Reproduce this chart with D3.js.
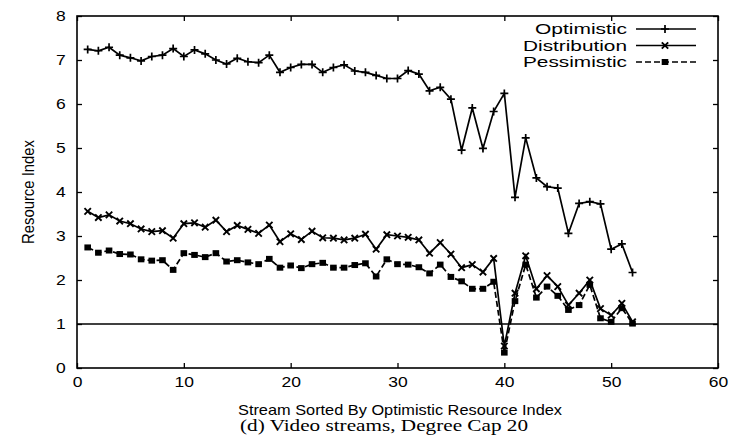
<!DOCTYPE html>
<html>
<head>
<meta charset="utf-8">
<script src="https://cdn.jsdelivr.net/npm/d3@7"></script>
<style>
  html, body { margin: 0; padding: 0; background: #fff; }
  svg { display: block; }
  text { fill: #000; }
</style>
</head>
<body>
<svg id="chart" width="741" height="437"></svg>
<script>
// Resource index per stream, streams sorted by optimistic resource index
const streams = d3.range(1, 53);
const optimistic = [7.24, 7.21, 7.29, 7.11, 7.05, 6.98, 7.08, 7.11, 7.26, 7.08,
  7.23, 7.14, 7.00, 6.91, 7.04, 6.96, 6.94, 7.11, 6.72, 6.83,
  6.90, 6.90, 6.72, 6.83, 6.89, 6.75, 6.72, 6.65, 6.58, 6.58,
  6.76, 6.68, 6.30, 6.38, 6.11, 4.95, 5.91, 4.99, 5.83, 6.24,
  3.88, 5.23, 4.32, 4.12, 4.09, 3.06, 3.74, 3.78, 3.73, 2.70,
  2.82, 2.17];
const distribution = [3.56, 3.42, 3.48, 3.34, 3.28, 3.16, 3.10, 3.12, 2.95, 3.28,
  3.30, 3.20, 3.36, 3.10, 3.24, 3.15, 3.06, 3.25, 2.87, 3.05,
  2.92, 3.11, 2.96, 2.95, 2.91, 2.95, 3.04, 2.70, 3.03, 3.00,
  2.97, 2.91, 2.61, 2.85, 2.59, 2.28, 2.35, 2.18, 2.49, 0.50,
  1.70, 2.55, 1.80, 2.10, 1.85, 1.43, 1.70, 2.00, 1.35, 1.20,
  1.47, 1.05];
const pessimistic = [2.74, 2.62, 2.67, 2.59, 2.58, 2.47, 2.44, 2.45, 2.23, 2.61,
  2.57, 2.52, 2.61, 2.42, 2.45, 2.40, 2.36, 2.48, 2.28, 2.33,
  2.27, 2.36, 2.39, 2.28, 2.28, 2.34, 2.38, 2.08, 2.47, 2.36,
  2.35, 2.29, 2.15, 2.35, 2.07, 1.97, 1.80, 1.80, 1.96, 0.35,
  1.52, 2.35, 1.60, 1.85, 1.64, 1.32, 1.43, 1.89, 1.13, 1.05,
  1.36, 1.01];
const seriesNames = ["Optimistic", "Distribution", "Pessimistic"];
const xTicks = [0, 10, 20, 30, 40, 50, 60];
const yTicks = [0, 1, 2, 3, 4, 5, 6, 7, 8];
const referenceLevel = 1;

const svg = d3.select("#chart");
const margin = { left: 77, right: 23, top: 16, bottom: 69 };
const W = 741, H = 437;

const x = d3.scaleLinear().domain([0, 60]).range([margin.left, W - margin.right]);
const y = d3.scaleLinear().domain([0, 8]).range([H - margin.bottom, margin.top]);

const font = "'Liberation Sans', Arial, sans-serif";
const wide = "scale(1.25,1)";

// Axes with inward ticks on all four sides
const tickLen = 5;
svg.append("g").attr("transform", `translate(0,${y(0)})`)
  .call(d3.axisBottom(x).tickValues(xTicks).tickSize(-tickLen).tickPadding(9))
  .call(g => g.select(".domain").remove());
svg.append("g").attr("transform", `translate(0,${y(8)})`)
  .call(d3.axisTop(x).tickValues(xTicks).tickSize(-tickLen).tickFormat(""))
  .call(g => g.select(".domain").remove());
svg.append("g").attr("transform", `translate(${x(0)},0)`)
  .call(d3.axisLeft(y).tickValues(yTicks).tickSize(-tickLen).tickPadding(9))
  .call(g => g.select(".domain").remove());
svg.append("g").attr("transform", `translate(${x(60)},0)`)
  .call(d3.axisRight(y).tickValues(yTicks).tickSize(-tickLen).tickFormat(""))
  .call(g => g.select(".domain").remove());

svg.selectAll(".tick line").attr("stroke", "#000").attr("stroke-width", 1.3);
svg.selectAll(".tick text")
  .style("font-family", font).style("font-size", "14px").attr("fill", "#000")
  .attr("transform", wide);

// Frame
svg.append("rect")
  .attr("x", x(0)).attr("y", y(8))
  .attr("width", x(60) - x(0)).attr("height", y(0) - y(8))
  .attr("fill", "none").attr("stroke", "#000").attr("stroke-width", 1.6);

// Reference line at index 1
svg.append("line")
  .attr("x1", x(0)).attr("x2", x(60))
  .attr("y1", y(referenceLevel)).attr("y2", y(referenceLevel))
  .attr("stroke", "#000").attr("stroke-width", 1.4);

const line = d3.line().x((d, i) => x(streams[i])).y(d => y(d));

function plusPath(cx, cy, s) {
  return `M${cx - s},${cy}H${cx + s}M${cx},${cy - s}V${cy + s}`;
}
function crossPath(cx, cy, s) {
  return `M${cx - s},${cy - s}L${cx + s},${cy + s}M${cx - s},${cy + s}L${cx + s},${cy - s}`;
}

function drawMarker(g, kind, cx, cy) {
  if (kind === "plus") {
    g.append("path").attr("d", plusPath(cx, cy, 4))
      .attr("stroke", "#000").attr("stroke-width", 1.7).attr("fill", "none");
  } else if (kind === "cross") {
    g.append("path").attr("d", crossPath(cx, cy, 3.2))
      .attr("stroke", "#000").attr("stroke-width", 1.9).attr("fill", "none");
  } else {
    g.append("rect").attr("x", cx - 3.3).attr("y", cy - 3)
      .attr("width", 6.6).attr("height", 6).attr("fill", "#000");
  }
}

const series = [
  { name: seriesNames[0], values: optimistic, marker: "plus", dash: null, width: 92 },
  { name: seriesNames[1], values: distribution, marker: "cross", dash: null, width: 104 },
  { name: seriesNames[2], values: pessimistic, marker: "square", dash: "6,3", width: 104 }
];

series.slice().reverse().forEach(s => {
  const g = svg.append("g");
  g.append("path").datum(s.values)
    .attr("d", line).attr("fill", "none")
    .attr("stroke", "#000").attr("stroke-width", 1.7)
    .attr("stroke-dasharray", s.dash);
  s.values.forEach((v, i) => drawMarker(g, s.marker, x(streams[i]), y(v)));
});

// Legend
const legend = svg.append("g");
const legendRows = [29, 45.5, 62];
series.forEach((s, i) => {
  const ly = legendRows[i];
  legend.append("text")
    .attr("x", 627 - s.width).attr("y", ly).attr("dy", "0.36em")
    .attr("textLength", s.width).attr("lengthAdjust", "spacingAndGlyphs")
    .style("font-family", font).style("font-size", "15px")
    .text(s.name);
  legend.append("line")
    .attr("x1", 636).attr("x2", 696).attr("y1", ly).attr("y2", ly)
    .attr("stroke", "#000").attr("stroke-width", 1.6)
    .attr("stroke-dasharray", s.dash);
  drawMarker(legend, s.marker, 665, ly);
});

// Axis titles and caption
svg.append("text")
  .attr("x", 238).attr("y", 415)
  .attr("textLength", 324).attr("lengthAdjust", "spacingAndGlyphs")
  .style("font-family", font).style("font-size", "15px")
  .text("Stream Sorted By Optimistic Resource Index");
svg.append("text")
  .attr("x", 240).attr("y", 431)
  .attr("textLength", 288).attr("lengthAdjust", "spacingAndGlyphs")
  .style("font-family", "'Liberation Serif', 'Times New Roman', serif").style("font-size", "16px")
  .text("(d) Video streams, Degree Cap 20");
const yMid = (y(0) + y(8)) / 2;
svg.append("text")
  .attr("transform", `translate(34,${yMid}) rotate(-90)`)
  .attr("x", -52)
  .attr("textLength", 104).attr("lengthAdjust", "spacingAndGlyphs")
  .style("font-family", font).style("font-size", "16px")
  .text("Resource Index");
</script>
</body>
</html>
